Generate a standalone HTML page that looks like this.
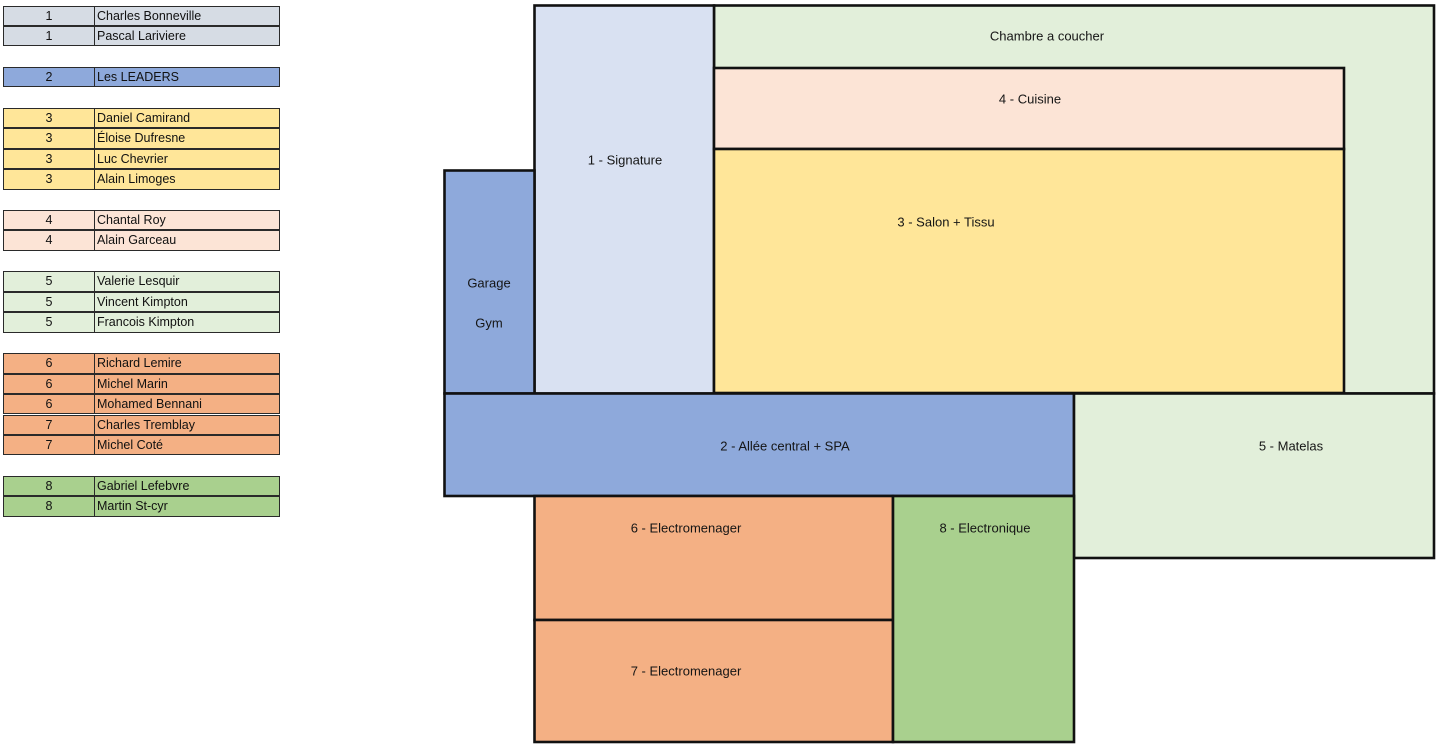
<!DOCTYPE html>
<html>
<head>
<meta charset="utf-8">
<style>
  html,body{margin:0;padding:0;background:#fff;}
  body{width:1440px;height:752px;position:relative;overflow:hidden;font-family:"Liberation Sans",Arial,sans-serif;}
  .r{position:absolute;left:3px;width:277px;height:20.45px;box-sizing:border-box;border:1px solid #2a2a2a;font-size:12.5px;color:#111;}
  .r .n{position:absolute;left:0;top:0;width:90px;height:100%;border-right:1px solid #2a2a2a;text-align:center;line-height:19px;}
  .r .t{position:absolute;left:93px;top:0;line-height:19px;}
  .c1{background:#D6DCE4}.c2{background:#8EA9DB}.c3{background:#FFE699}.c4{background:#FCE4D6}
  .c5{background:#E2EFDA}.c6{background:#F4B084}.c8{background:#A9D08E}
  svg{position:absolute;left:0;top:0;}
  svg text{font-family:"Liberation Sans",Arial,sans-serif;font-size:13px;fill:#151515;}
</style>
</head>
<body>
<div class="r c1" style="top:5.5px"><div class="n">1</div><div class="t">Charles Bonneville</div></div>
<div class="r c1" style="top:25.95px"><div class="n">1</div><div class="t">Pascal Lariviere</div></div>

<div class="r c2" style="top:66.85px"><div class="n">2</div><div class="t">Les LEADERS</div></div>

<div class="r c3" style="top:107.75px"><div class="n">3</div><div class="t">Daniel Camirand</div></div>
<div class="r c3" style="top:128.2px"><div class="n">3</div><div class="t">Éloise Dufresne</div></div>
<div class="r c3" style="top:148.65px"><div class="n">3</div><div class="t">Luc Chevrier</div></div>
<div class="r c3" style="top:169.1px"><div class="n">3</div><div class="t">Alain Limoges</div></div>

<div class="r c4" style="top:210px"><div class="n">4</div><div class="t">Chantal Roy</div></div>
<div class="r c4" style="top:230.45px"><div class="n">4</div><div class="t">Alain Garceau</div></div>

<div class="r c5" style="top:271.35px"><div class="n">5</div><div class="t">Valerie Lesquir</div></div>
<div class="r c5" style="top:291.8px"><div class="n">5</div><div class="t">Vincent Kimpton</div></div>
<div class="r c5" style="top:312.25px"><div class="n">5</div><div class="t">Francois Kimpton</div></div>

<div class="r c6" style="top:353.15px"><div class="n">6</div><div class="t">Richard Lemire</div></div>
<div class="r c6" style="top:373.6px"><div class="n">6</div><div class="t">Michel Marin</div></div>
<div class="r c6" style="top:394.05px"><div class="n">6</div><div class="t">Mohamed Bennani</div></div>
<div class="r c6" style="top:414.5px"><div class="n">7</div><div class="t">Charles Tremblay</div></div>
<div class="r c6" style="top:434.95px"><div class="n">7</div><div class="t">Michel Coté</div></div>

<div class="r c8" style="top:475.85px"><div class="n">8</div><div class="t">Gabriel Lefebvre</div></div>
<div class="r c8" style="top:496.3px"><div class="n">8</div><div class="t">Martin St-cyr</div></div>

<svg width="1440" height="752" viewBox="0 0 1440 752">
  <g stroke="#111" stroke-width="2.6">
    <rect x="714" y="5.5" width="720" height="388" fill="#E2EFDA"/>
    <rect x="534.5" y="5.5" width="179.5" height="388" fill="#D9E1F2"/>
    <rect x="714" y="68" width="630" height="81" fill="#FCE4D6"/>
    <rect x="714" y="149" width="630" height="244" fill="#FFE699"/>
    <rect x="444.5" y="170.5" width="90" height="223" fill="#8EA9DB"/>
    <rect x="444.5" y="393.5" width="629.5" height="102.5" fill="#8EA9DB"/>
    <rect x="1074" y="393.5" width="360" height="164.5" fill="#E2EFDA"/>
    <rect x="534.5" y="496" width="358.5" height="124" fill="#F4B084"/>
    <rect x="534.5" y="620" width="358.5" height="122" fill="#F4B084"/>
    <rect x="893" y="496" width="181" height="246" fill="#A9D08E"/>
  </g>
  <g text-anchor="middle" dominant-baseline="central">
    <text x="1047" y="36">Chambre a coucher</text>
    <text x="1030" y="99">4 - Cuisine</text>
    <text x="946" y="222">3 - Salon + Tissu</text>
    <text x="625" y="160">1 - Signature</text>
    <text x="489" y="283">Garage</text>
    <text x="489" y="323">Gym</text>
    <text x="785" y="446">2 - Allée central + SPA</text>
    <text x="1291" y="446">5 - Matelas</text>
    <text x="686" y="528">6 - Electromenager</text>
    <text x="985" y="528">8 - Electronique</text>
    <text x="686" y="671">7 - Electromenager</text>
  </g>
</svg>
</body>
</html>
